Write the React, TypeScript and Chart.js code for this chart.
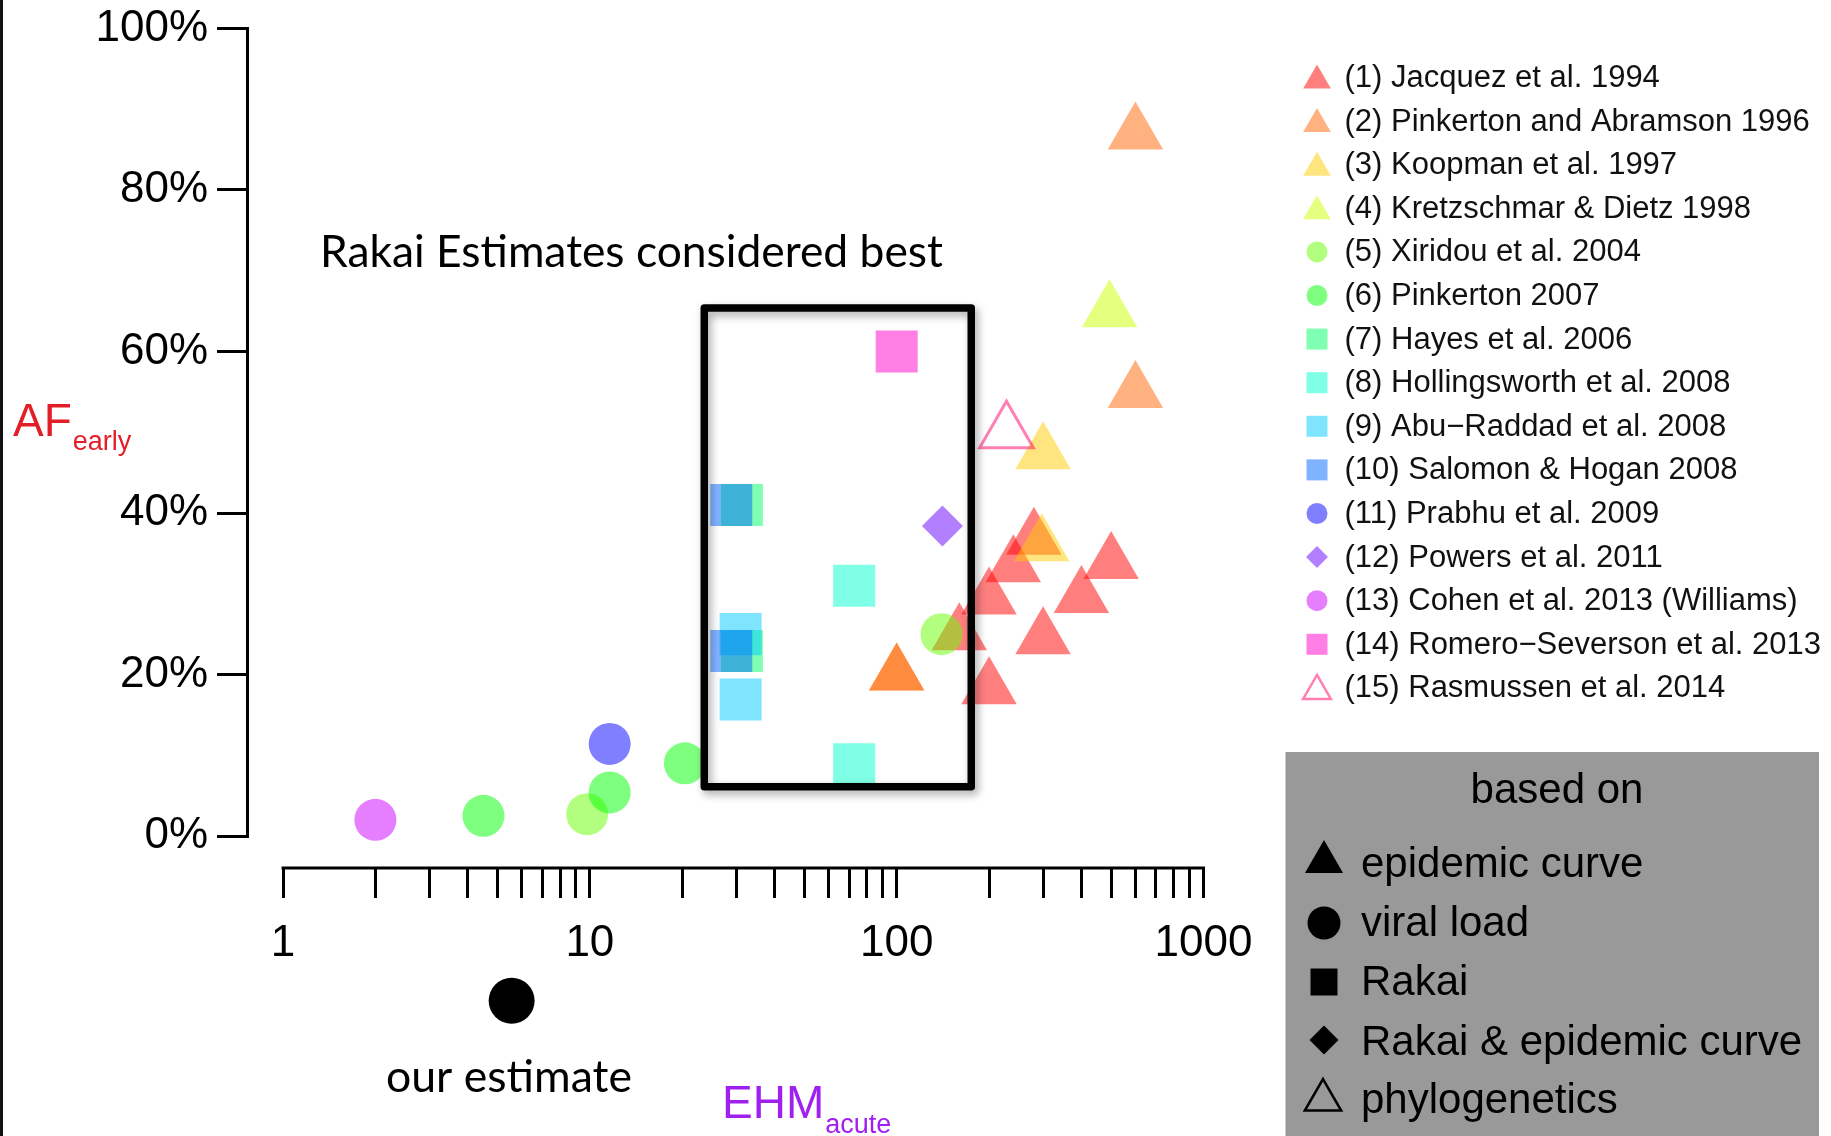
import React, { useEffect, useRef } from 'react';
import { Chart, registerables } from 'chart.js';

Chart.register(...registerables);

const W = 1831;
const H = 1136;

// ---------- data (EHM_acute on x, AF_early in % on y) ----------
const studyLabels = [
  '(1) Jacquez et al. 1994',
  '(2) Pinkerton and Abramson 1996',
  '(3) Koopman et al. 1997',
  '(4) Kretzschmar & Dietz 1998',
  '(5) Xiridou et al. 2004',
  '(6) Pinkerton 2007',
  '(7) Hayes et al. 2006',
  '(8) Hollingsworth et al. 2008',
  '(9) Abu\u2212Raddad et al. 2008',
  '(10) Salomon & Hogan 2008',
  '(11) Prabhu et al. 2009',
  '(12) Powers et al. 2011',
  '(13) Cohen et al. 2013 (Williams)',
  '(14) Romero\u2212Severson et al. 2013',
  '(15) Rasmussen et al. 2014',
];

const studyColors = [
  'rgba(255,0,0,0.5)',
  'rgba(255,102,0,0.5)',
  'rgba(255,204,0,0.5)',
  'rgba(204,255,0,0.5)',
  'rgba(102,255,0,0.5)',
  'rgba(0,255,0,0.5)',
  'rgba(0,255,102,0.5)',
  'rgba(0,255,204,0.5)',
  'rgba(0,204,255,0.5)',
  'rgba(0,102,255,0.5)',
  'rgba(0,0,255,0.5)',
  'rgba(102,0,255,0.5)',
  'rgba(204,0,255,0.5)',
  'rgba(255,0,204,0.5)',
  'rgba(255,0,102,0.5)',
];

// basis of each estimate: epidemic curve, viral load, Rakai, Rakai & epidemic curve, phylogenetics
const studyBasis = [
  'epidemic', 'epidemic', 'epidemic', 'epidemic',
  'viral', 'viral',
  'rakai', 'rakai', 'rakai', 'rakai',
  'viral', 'rakaiEpi', 'viral', 'rakai', 'phylo',
];

const jacquezEHM = [280, 240, 200, 500, 400, 300, 160, 200];
const jacquezAF = [36.8, 33.4, 29.4, 33.8, 29.6, 24.5, 25.0, 18.3];
const pinkertonAbramsonEHM = [600, 600, 100, 100];
const pinkertonAbramsonAF = [87.0, 55.0, 20.0, 20.0];
const koopmanEHM = [300, 297];
const koopmanAF = [47.4, 36.0];
const kretzschmarEHM = [494];
const kretzschmarAF = [65.0];
const xiridouEHM = [140, 9.8];
const xiridouAF = [25.0, 2.7];
const pinkerton2007EHM = [4.5, 11.6, 20.4];
const pinkerton2007AF = [2.5, 5.4, 9.0];
const hayesEHM = [31.3, 31.3];
const hayesAF = [41.0, 22.9];
const hollingsworthEHM = [72.7, 72.7];
const hollingsworthAF = [31.0, 8.9];
const abuRaddadEHM = [31.0, 31.0];
const abuRaddadAF = [25.0, 16.9];
const salomonEHM = [28.9, 28.9];
const salomonAF = [41.0, 22.9];
const prabhuEHM = [11.6];
const prabhuAF = [11.4];
const powersEHM = [141];
const powersAF = [38.4];
const cohenEHM = [2.0];
const cohenAF = [2.0];
const romeroEHM = [100];
const romeroAF = [60.0];
const rasmussenEHM = [228];
const rasmussenAF = [50.0];

const ourEstimateEHM = [5.56];
const ourEstimateAF = [-20.4];

const studyEHM = [
  jacquezEHM, pinkertonAbramsonEHM, koopmanEHM, kretzschmarEHM, xiridouEHM,
  pinkerton2007EHM, hayesEHM, hollingsworthEHM, abuRaddadEHM, salomonEHM,
  prabhuEHM, powersEHM, cohenEHM, romeroEHM, rasmussenEHM,
];
const studyAF = [
  jacquezAF, pinkertonAbramsonAF, koopmanAF, kretzschmarAF, xiridouAF,
  pinkerton2007AF, hayesAF, hollingsworthAF, abuRaddadAF, salomonAF,
  prabhuAF, powersAF, cohenAF, romeroAF, rasmussenAF,
];

// axes
const yTicks = [0, 20, 40, 60, 80, 100];
const xTickValues = [
  1, 2, 3, 4, 5, 6, 7, 8, 9,
  10, 20, 30, 40, 50, 60, 70, 80, 90,
  100, 200, 300, 400, 500, 600, 700, 800, 900, 1000,
];
const xTickLabels = ['1', '10', '100', '1000'];
const X_MIN = 0.763; // EHM value under the AF axis line
const X_MAX = 1000;
const X_AXIS_AT = -3.96; // AF value where the EHM axis sits

// the "Rakai estimates considered best" box, in data units
const rakaiBoxEHM = [23.6, 175];
const rakaiBoxAF = [6.1, 65.4];

const basisLabels = ['epidemic curve', 'viral load', 'Rakai', 'Rakai & epidemic curve', 'phylogenetics'];
const basisKeys = ['epidemic', 'viral', 'rakai', 'rakaiEpi', 'phylo'];

const SANS = '"Liberation Sans", Arial, Helvetica, sans-serif';
const HUMAN = 'Lato, "Open Sans", sans-serif';

function styleFor(basis: string) {
  if (basis === 'epidemic' || basis === 'phylo') return { pointStyle: 'triangle', r: 32 };
  if (basis === 'viral') return { pointStyle: 'circle', r: 21 };
  if (basis === 'rakai') return { pointStyle: 'rect', r: 29.7 };
  return { pointStyle: 'rectRot', r: 20.5 };
}

function drawMarker(
  ctx: CanvasRenderingContext2D,
  kind: string,
  x: number,
  y: number,
  r: number,
  fill: string | null,
  stroke: string | null,
  lw: number
) {
  ctx.beginPath();
  if (kind === 'triangle') {
    ctx.moveTo(x, y - r);
    ctx.lineTo(x + r * 0.8660254, y + r * 0.5);
    ctx.lineTo(x - r * 0.8660254, y + r * 0.5);
    ctx.closePath();
  } else if (kind === 'circle') {
    ctx.arc(x, y, r, 0, Math.PI * 2);
  } else if (kind === 'rect') {
    ctx.rect(x - r, y - r, 2 * r, 2 * r);
  } else {
    ctx.moveTo(x - r, y);
    ctx.lineTo(x, y - r);
    ctx.lineTo(x + r, y);
    ctx.lineTo(x, y + r);
    ctx.closePath();
  }
  if (fill) {
    ctx.fillStyle = fill;
    ctx.fill();
  }
  if (stroke) {
    ctx.strokeStyle = stroke;
    ctx.lineWidth = lw;
    ctx.lineJoin = 'miter';
    ctx.stroke();
  }
}

function fitSize(ctx: CanvasRenderingContext2D, text: string, family: string, width: number) {
  ctx.font = `100px ${family}`;
  const w = ctx.measureText(text).width;
  return (100 * width) / w;
}

const decorPlugin = {
  id: 'decor',
  afterDatasetsDraw(chart: any) {
    const ctx: CanvasRenderingContext2D = chart.ctx;
    const xs = chart.scales.x;
    const ys = chart.scales.y;

    // "our estimate" point sits below the EHM axis, outside the chart area:
    // draw its point elements without the chart-area test.
    const last = chart.data.datasets.length - 1;
    const meta = chart.getDatasetMeta(last);
    ctx.save();
    meta.data.forEach((p: any) => p.draw(ctx));
    ctx.restore();

    const x1 = xs.getPixelForValue(rakaiBoxEHM[0]);
    const x2 = xs.getPixelForValue(rakaiBoxEHM[1]);
    const y1 = ys.getPixelForValue(rakaiBoxAF[1]);
    const y2 = ys.getPixelForValue(rakaiBoxAF[0]);
    ctx.save();
    ctx.shadowColor = 'rgba(0,0,0,0.35)';
    ctx.shadowBlur = 8;
    ctx.shadowOffsetX = 3;
    ctx.shadowOffsetY = 4;
    ctx.strokeStyle = '#000';
    ctx.lineWidth = 7.5;
    ctx.lineJoin = 'round';
    ctx.strokeRect(x1, y1, x2 - x1, y2 - y1);
    ctx.restore();
  },
  afterDraw(chart: any) {
    const ctx: CanvasRenderingContext2D = chart.ctx;
    const xs = chart.scales.x;
    const ys = chart.scales.y;
    ctx.save();

    // EHM axis line, from 1 to 1000
    const ay = ys.getPixelForValue(X_AXIS_AT);
    ctx.strokeStyle = '#000';
    ctx.lineWidth = 3;
    ctx.beginPath();
    ctx.moveTo(xs.getPixelForValue(xTickValues[0]) - 1.5, ay);
    ctx.lineTo(xs.getPixelForValue(xTickValues[xTickValues.length - 1]) + 1.5, ay);
    ctx.stroke();

    // left frame edge
    ctx.fillStyle = '#111';
    ctx.fillRect(0, 0, 3, H);

    // axis titles
    ctx.textBaseline = 'alphabetic';
    ctx.textAlign = 'left';
    ctx.fillStyle = 'rgb(228,30,38)';
    ctx.font = `46px ${SANS}`;
    ctx.fillText('AF', 13, 436);
    const afW = ctx.measureText('AF').width;
    ctx.font = `27px ${SANS}`;
    ctx.fillText('early', 13 + afW + 1, 450);

    ctx.fillStyle = '#A020F0';
    ctx.font = `46px ${SANS}`;
    ctx.fillText('EHM', 722, 1118);
    const ehmW = ctx.measureText('EHM').width;
    ctx.font = `27px ${SANS}`;
    ctx.fillText('acute', 722 + ehmW + 1, 1133);

    // annotations
    ctx.fillStyle = '#000';
    const t1 = 'Rakai Estimates considered best';
    const s1 = fitSize(ctx, t1, HUMAN, 623);
    ctx.font = `${s1}px ${HUMAN}`;
    ctx.fillText(t1, 320, 267);
    const t2 = 'our estimate';
    const s2 = fitSize(ctx, t2, HUMAN, 246);
    ctx.font = `${s2}px ${HUMAN}`;
    ctx.fillText(t2, 386, 1092);

    // study legend
    ctx.font = `31px ${SANS}`;
    ctx.textBaseline = 'middle';
    studyLabels.forEach((lab, i) => {
      const cy = 77.5 + i * 43.6;
      const b = studyBasis[i];
      const col = studyColors[i];
      if (b === 'epidemic') drawMarker(ctx, 'triangle', 1317, cy + 3, 16, col, null, 0);
      else if (b === 'phylo') drawMarker(ctx, 'triangle', 1317, cy + 3, 16, null, col, 2.5);
      else if (b === 'viral') drawMarker(ctx, 'circle', 1317, cy, 10.5, col, null, 0);
      else if (b === 'rakai') drawMarker(ctx, 'rect', 1317, cy, 10.5, col, null, 0);
      else drawMarker(ctx, 'diamond', 1317, cy, 11, col, null, 0);
      ctx.fillStyle = '#111';
      ctx.fillText(lab, 1344.5, cy + 1);
    });

    // "based on" legend
    ctx.fillStyle = '#999999';
    ctx.fillRect(1285.5, 752, 1819 - 1285.5, H - 752);
    ctx.fillStyle = '#000';
    ctx.font = `42px ${SANS}`;
    ctx.textBaseline = 'alphabetic';
    ctx.textAlign = 'center';
    ctx.fillText('based on', 1557, 803);
    ctx.textAlign = 'left';
    const baselines = [877, 936, 995, 1055, 1113];
    basisLabels.forEach((lab, i) => {
      const k = basisKeys[i];
      if (k === 'epidemic') drawMarker(ctx, 'triangle', 1324, 862, 22, '#000', null, 0);
      else if (k === 'viral') drawMarker(ctx, 'circle', 1324, 923, 16.5, '#000', null, 0);
      else if (k === 'rakai') drawMarker(ctx, 'rect', 1324, 982, 13.5, '#000', null, 0);
      else if (k === 'rakaiEpi') drawMarker(ctx, 'diamond', 1324, 1040, 14.5, '#000', null, 0);
      else drawMarker(ctx, 'triangle', 1323, 1100, 21, null, '#000', 2.5);
      ctx.fillStyle = '#000';
      ctx.fillText(lab, 1361, baselines[i]);
    });

    ctx.restore();
  },
};

export default function App() {
  const ref = useRef<HTMLCanvasElement | null>(null);

  useEffect(() => {
    document.body.style.margin = '0';
    const canvas = ref.current;
    if (!canvas) return;

    const N = studyLabels.length;
    const datasets: any[] = studyLabels.map((label, i) => {
      const st = styleFor(studyBasis[i]);
      const open = studyBasis[i] === 'phylo';
      return {
        label,
        data: studyEHM[i].map((x, j) => ({ x, y: studyAF[i][j] })),
        pointStyle: st.pointStyle,
        pointRadius: open ? 31 : st.r,
        backgroundColor: open ? 'rgba(0,0,0,0)' : studyColors[i],
        borderColor: studyColors[i],
        borderWidth: open ? 3 : 0,
        order: N + 1 - i,
        clip: false,
      };
    });
    datasets.push({
      label: 'our estimate',
      data: ourEstimateEHM.map((x, j) => ({ x, y: ourEstimateAF[j] })),
      pointStyle: 'circle',
      pointRadius: 23,
      backgroundColor: '#000',
      borderColor: '#000',
      borderWidth: 0,
      order: 0,
      clip: false,
    });

    const chart = new Chart(canvas, {
      type: 'scatter',
      data: { datasets },
      plugins: [decorPlugin],
      options: {
        animation: false,
        responsive: false,
        devicePixelRatio: 1,
        events: [],
        layout: {
          autoPadding: false,
          padding: { left: 0, top: 28.5, right: W - 1203.5, bottom: H - 836 },
        },
        plugins: { legend: { display: false }, tooltip: { enabled: false }, title: { display: false } },
        scales: {
          x: {
            type: 'logarithmic',
            min: X_MIN,
            max: X_MAX,
            position: { y: X_AXIS_AT },
            border: { display: false },
            grid: {
              display: true,
              drawOnChartArea: false,
              drawTicks: true,
              tickLength: 30,
              color: '#000',
              lineWidth: 3,
            },
            afterBuildTicks: (scale: any) => {
              scale.ticks = xTickValues.map((value) => ({ value }));
            },
            ticks: {
              autoSkip: false,
              maxRotation: 0,
              minRotation: 0,
              padding: 19,
              color: '#000',
              font: { family: SANS, size: 44 },
              callback: (v: any) => (xTickLabels.includes(String(v)) ? String(v) : ''),
            },
          } as any,
          y: {
            type: 'linear',
            min: yTicks[0],
            max: yTicks[yTicks.length - 1],
            position: 'left',
            border: { display: true, color: '#000', width: 3 },
            grid: {
              display: true,
              drawOnChartArea: false,
              drawTicks: true,
              tickLength: 30,
              color: '#000',
              lineWidth: 3,
            },
            afterFit: (scale: any) => {
              scale.width = 247;
              scale.paddingTop = 0;
              scale.paddingBottom = 0;
            },
            afterBuildTicks: (scale: any) => {
              scale.ticks = yTicks.map((value) => ({ value }));
            },
            ticks: {
              padding: 9,
              color: '#000',
              font: { family: SANS, size: 44 },
              callback: (v: any) => `${v}%`,
            },
          } as any,
        },
      },
    });

    return () => chart.destroy();
  }, []);

  return (
    <div style={{ position: 'absolute', left: 0, top: 0, width: W, height: H, background: '#fff' }}>
      <canvas ref={ref} width={W} height={H} style={{ display: 'block', width: W, height: H }} />
    </div>
  );
}
